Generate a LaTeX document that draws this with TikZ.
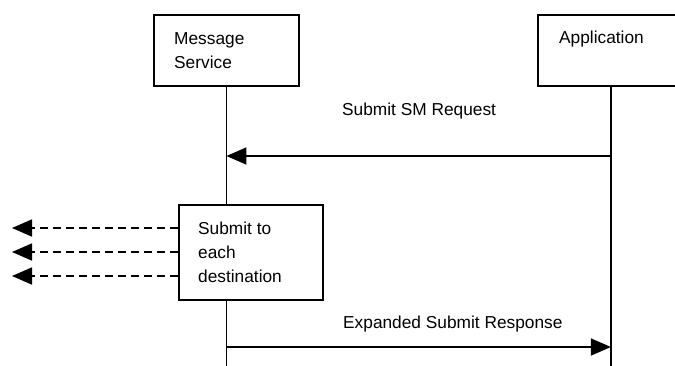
\documentclass[tikz,border=0pt]{standalone}
\usepackage{fontspec}
\setmainfont{Liberation Sans}
\usetikzlibrary{arrows.meta}
\begin{document}
\begin{tikzpicture}[x=1pt,y=-1pt,
  every node/.style={font=\fontsize{17.3}{23.8}\selectfont},
  box/.style={draw,line width=1.8pt,inner sep=0pt,anchor=north west},
  txt/.style={inner sep=0pt,anchor=base west,align=left},
  line/.style={line width=1.6pt},
  msg/.style={line width=1.6pt,-{Triangle[length=20pt,width=17pt]}},
  dmsg/.style={line width=1.6pt,dash pattern=on 8pt off 5pt,-{Triangle[length=20pt,width=17pt]}}]
\clip (0,0) rectangle (675,365);
\useasboundingbox (0,0) rectangle (675,365);
% boxes
\node[box,minimum width=145pt,minimum height=71pt] (ms) at (153,14) {};
\node[box,minimum width=146pt,minimum height=71pt] (app) at (537,14) {};
\node[box,minimum width=144pt,minimum height=95pt] (sub) at (178,204) {};
% texts (base anchor = baseline of last line)
\node[txt] (mst) at (174,68) {Message\\Service};
\node[txt] (appt) at (559,43) {Application};
\node[txt] (subt) at (198,282) {Submit to\\each\\destination};
\node[txt] (l1) at (342,115) {Submit SM Request};
\node[txt] (l2) at (343,328) {Expanded Submit Response};
% helper coordinates
\coordinate (bot) at (0,366);
\coordinate (r1) at (0,156);
\coordinate (r2) at (0,347);
\coordinate (d1) at (12,228);
\coordinate (d2) at (12,252);
\coordinate (d3) at (12,276);
% lifelines
\draw[line] (ms.south) -- (ms.south |- sub.north);
\draw[line] (ms.south |- sub.south) -- (ms.south |- bot);
\draw[line] (app.south) -- (app.south |- bot);
% messages
\draw[msg] (app.south |- r1) -- (ms.south |- r1);
\draw[msg] (ms.south |- r2) -- (app.south |- r2);
\draw[dmsg] (sub.west |- d1) -- (d1);
\draw[dmsg] (sub.west |- d2) -- (d2);
\draw[dmsg] (sub.west |- d3) -- (d3);
\end{tikzpicture}
\end{document}
